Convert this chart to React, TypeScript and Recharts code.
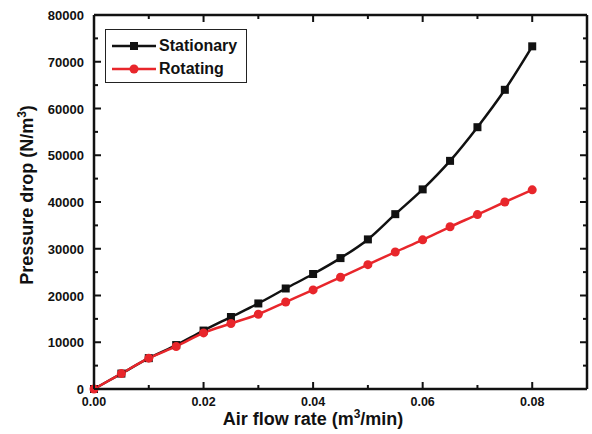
import React from "react";
import { LineChart, Line, XAxis, YAxis } from "recharts";

const flowRates = [0, 0.005, 0.01, 0.015, 0.02, 0.025, 0.03, 0.035, 0.04, 0.045, 0.05, 0.055, 0.06, 0.065, 0.07, 0.075, 0.08];
const stationary = [0, 3300, 6600, 9400, 12500, 15400, 18300, 21500, 24600, 28000, 32000, 37400, 42700, 48800, 56000, 64000, 73300];
const rotating = [0, 3300, 6600, 9100, 12000, 14000, 16000, 18600, 21200, 23900, 26600, 29300, 31900, 34700, 37300, 40000, 42600];

const xTicks = [0, 0.01, 0.02, 0.03, 0.04, 0.05, 0.06, 0.07, 0.08];
const yTicks = [0, 5000, 10000, 15000, 20000, 25000, 30000, 35000, 40000, 45000, 50000, 55000, 60000, 65000, 70000, 75000, 80000];

const FONT = "'Liberation Sans', Arial, sans-serif";
const RED = "#e8262b";
const BLACK = "#111";

// frame edges (margin + mirror axis size), used for the inward ticks on the top/right sides
const PLOT_TOP = 15;
const PLOT_RIGHT = 587;

const data = flowRates.map((x, i) => ({ x, stationary: stationary[i], rotating: rotating[i] }));

const isMajorX = (v: number) => Math.round(v * 100) % 2 === 0;
const isMajorY = (v: number) => v % 10000 === 0;

const renderBottomTick = ({ x, y, payload, index }: any) => {
  const major = isMajorX(payload.value);
  const len = major ? 7 : 4;
  return (
    <g key={`b${index}`}>
      <rect x={x - 1} y={y - len} width={2} height={len} fill={BLACK} />
      <rect x={x - 1} y={PLOT_TOP} width={2} height={len} fill={BLACK} />
      {major && (
        <text x={x} y={y + 17} textAnchor="middle" fontFamily={FONT} fontWeight="bold" fontSize={12.5} fill={BLACK}>
          {payload.value.toFixed(2)}
        </text>
      )}
    </g>
  );
};

const renderLeftTick = ({ x, y, payload, index }: any) => {
  const major = isMajorY(payload.value);
  const len = major ? 7 : 4;
  return (
    <g key={`l${index}`}>
      <rect x={x} y={y - 1} width={len} height={2} fill={BLACK} />
      <rect x={PLOT_RIGHT - len} y={y - 1} width={len} height={2} fill={BLACK} />
      {major && (
        <text x={x - 10} y={y + 5} textAnchor="end" fontFamily={FONT} fontWeight="bold" fontSize={13} fill={BLACK}>
          {payload.value}
        </text>
      )}
    </g>
  );
};

const SquareDot = ({ cx, cy, index }: any) => (
  <rect key={`s${index}`} x={cx - 4} y={cy - 4} width={8} height={8} fill={BLACK} />
);

const CircleDot = ({ cx, cy, index }: any) => (
  <circle key={`c${index}`} cx={cx} cy={cy} r={4.5} fill={RED} />
);

const legendItems = [
  { name: "Stationary", color: BLACK, square: true },
  { name: "Rotating", color: RED, square: false },
];

const LegendBox = () => (
  <div
    style={{
      position: "absolute",
      left: 105,
      top: 29,
      width: 142,
      height: 54,
      border: "1.5px solid #222",
      background: "#fff",
      fontFamily: FONT,
      fontWeight: "bold",
      fontSize: 16,
      boxSizing: "border-box",
    }}
  >
    {legendItems.map((item, i) => (
      <div key={item.name} style={{ display: "flex", alignItems: "center", height: 23, marginTop: i === 0 ? 4 : 0 }}>
        <svg width={50} height={14} style={{ marginLeft: 6 }}>
          <line x1={0} x2={44} y1={7} y2={7} stroke={item.color} strokeWidth={2.5} />
          {item.square ? (
            <rect x={18} y={3} width={8} height={8} fill={item.color} />
          ) : (
            <circle cx={22} cy={7} r={4.5} fill={item.color} />
          )}
        </svg>
        <span style={{ color: BLACK, marginLeft: -3 }}>{item.name}</span>
      </div>
    ))}
  </div>
);

export default function App() {
  return (
    <div style={{ position: "absolute", left: 0, top: 0, width: 592, height: 434, background: "#fff" }}>
      <LineChart width={592} height={434} data={data} margin={{ top: 14, right: 4, bottom: 0, left: 0 }}>
        <XAxis
          xAxisId="bottom"
          type="number"
          dataKey="x"
          domain={[0, 0.09]}
          ticks={xTicks}
          orientation="bottom"
          height={45}
          tickSize={0}
          tickMargin={0}
          tickLine={false}
          tick={renderBottomTick}
          axisLine={{ stroke: BLACK, strokeWidth: 2.5 }}
          interval={0}
          label={{
            content: () => (
              <text x={313} y={425} textAnchor="middle" fontFamily={FONT} fontWeight="bold" fontSize={18} fill={BLACK}>
                Air flow rate (m
                <tspan dy={-7} fontSize={12}>3</tspan>
                <tspan dy={7}>/min)</tspan>
              </text>
            ),
          }}
        />
        <XAxis
          xAxisId="top"
          type="number"
          dataKey="x"
          domain={[0, 0.09]}
          orientation="top"
          height={1}
          tick={false}
          tickLine={false}
          axisLine={{ stroke: BLACK, strokeWidth: 2.5 }}
        />
        <YAxis
          yAxisId="left"
          type="number"
          domain={[0, 80000]}
          ticks={yTicks}
          orientation="left"
          width={94}
          tickSize={0}
          tickMargin={0}
          tickLine={false}
          tick={renderLeftTick}
          axisLine={{ stroke: BLACK, strokeWidth: 2.5 }}
          interval={0}
          label={{
            content: () => (
              <text
                x={33}
                y={195}
                transform="rotate(-90 33 195)"
                textAnchor="middle"
                fontFamily={FONT}
                fontWeight="bold"
                fontSize={18}
                fill={BLACK}
              >
                Pressure drop (N/m
                <tspan dy={-7} fontSize={12}>3</tspan>
                <tspan dy={7}>)</tspan>
              </text>
            ),
          }}
        />
        <YAxis
          yAxisId="right"
          type="number"
          domain={[0, 80000]}
          orientation="right"
          width={1}
          tick={false}
          tickLine={false}
          axisLine={{ stroke: BLACK, strokeWidth: 2.5 }}
        />
        <Line
          xAxisId="bottom"
          yAxisId="left"
          type="monotone"
          dataKey="stationary"
          name="Stationary"
          stroke={BLACK}
          strokeWidth={2.5}
          dot={<SquareDot />}
          isAnimationActive={false}
        />
        <Line
          xAxisId="bottom"
          yAxisId="left"
          type="monotone"
          dataKey="rotating"
          name="Rotating"
          stroke={RED}
          strokeWidth={2.5}
          dot={<CircleDot />}
          isAnimationActive={false}
        />
      </LineChart>
      <LegendBox />
    </div>
  );
}
